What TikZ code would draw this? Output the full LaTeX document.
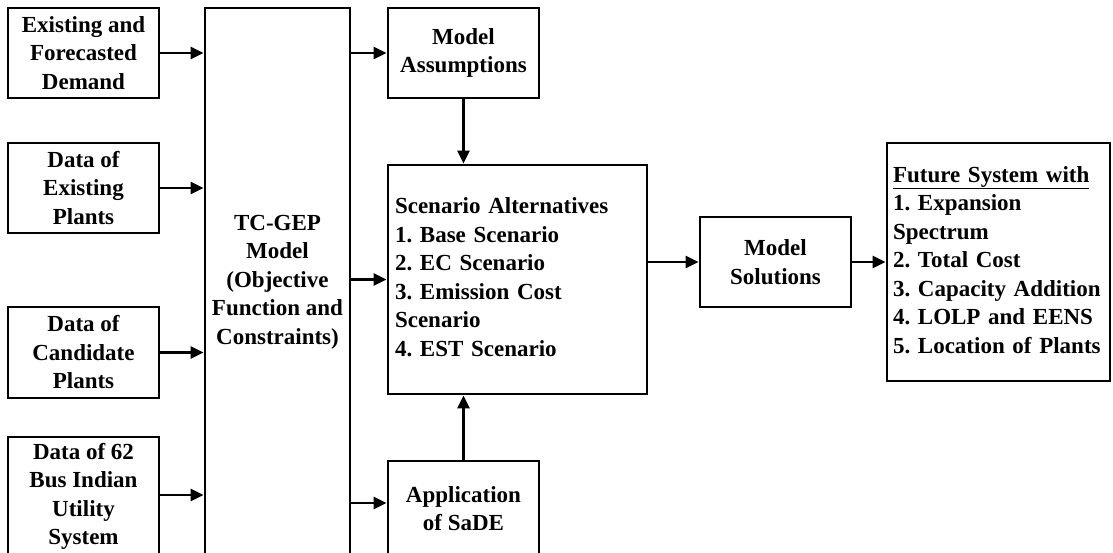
\documentclass[tikz,border=0pt]{standalone}
\usepackage{fontspec}
\setmainfont{Liberation Serif}
\usetikzlibrary{arrows.meta}
\begin{document}
\begin{tikzpicture}[x=1pt,y=-1pt,
  box/.style={draw, line width=2.8pt, rectangle, inner sep=0pt,
    font=\fontsize{23}{28.5}\selectfont\bfseries\frenchspacing, align=center},
  listbox/.style={box, align=left, inner xsep=7pt},
  arr/.style={line width=2.6pt, -{Triangle[length=13pt,width=12pt]}}]
\useasboundingbox (0,0) rectangle (1113,552);
\clip (0,0) rectangle (1113,552);
% left input boxes
\node[box, minimum width=151pt, minimum height=90pt] (d1) at (83.5,53) {Existing and\\Forecasted\\Demand};
\node[box, minimum width=151pt, minimum height=90pt] (d2) at (83.5,188) {Data of\\Existing\\Plants};
\node[box, minimum width=151pt, minimum height=91pt] (d3) at (83.5,352.5) {Data of\\Candidate\\Plants};
\node[box, minimum width=151pt, minimum height=119pt] (d4) at (83.5,496.5) {Data of 62\\Bus Indian\\Utility\\System};
% model box
\node[box, minimum width=145pt, minimum height=548pt] (tc) at (277.5,282) {TC-GEP\\Model\\(Objective\\Function and\\Constraints)};
% middle column
\node[box, minimum width=151pt, minimum height=90pt] (ma) at (463.5,53) {Model\\Assumptions};
\node[listbox, text width=245pt, minimum height=229pt] (sc) at (517.5,279.5) {\begin{tabular}{@{}l@{}}Scenario Alternatives\\1. Base Scenario\\2. EC Scenario\\3. Emission Cost\\Scenario\\4. EST Scenario\end{tabular}};
\node[box, minimum width=151pt, minimum height=95pt] (sa) at (463.5,508.5) {Application\\of SaDE};
% right column
\node[box, minimum width=151pt, minimum height=90pt] (ms) at (775.5,262) {Model\\Solutions};
\node[listbox, inner xsep=6pt, text width=211pt, minimum height=238pt] (fs) at (998.5,262) {\begin{tabular}{@{}l@{}}\underline{Future System with}\\1. Expansion\\Spectrum\\2. Total Cost\\3. Capacity Addition\\4. LOLP and EENS\\5. Location of Plants\end{tabular}};
% connectors
\draw[arr] (d1.east) -- (d1.east -| tc.west);
\draw[arr] (d2.east) -- (d2.east -| tc.west);
\draw[arr] (d3.east) -- (d3.east -| tc.west);
\draw[arr] ([yshift=1.5pt]d4.east) -- ([yshift=1.5pt]d4.east -| tc.west);
\draw[arr] (tc.east |- ma.west) -- (ma.west);
\draw[arr] (tc.east |- sc.west) -- (sc.west);
\draw[arr] ([yshift=5.5pt]tc.east |- sa.west) -- ([yshift=5.5pt]sa.west);
\draw[arr] (ma.south) -- (ma.south |- sc.north);
\draw[arr] (sa.north) -- (sa.north |- sc.south);
\draw[arr] (sc.east |- ms.west) -- (ms.west);
\draw[arr] (ms.east) -- (ms.east -| fs.west);
\end{tikzpicture}
\end{document}
